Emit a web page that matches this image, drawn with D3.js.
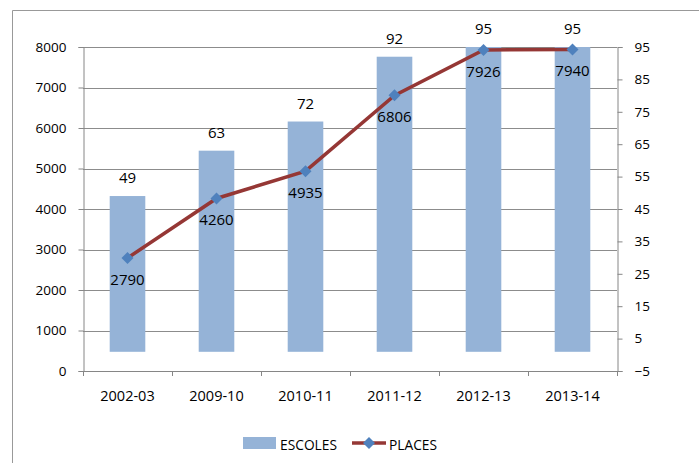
<!DOCTYPE html>
<html>
<head>
<meta charset="utf-8">
<script src="https://cdn.jsdelivr.net/npm/d3@7"></script>
<style>
  body { margin: 0; background: #fff; }
  svg text { font-family: "Open Sans", "Liberation Sans", sans-serif; fill: #000; }
</style>
</head>
<body>
<svg id="chart" width="699" height="463"></svg>
<script>
// data
const years = ["2002-03", "2009-10", "2010-11", "2011-12", "2012-13", "2013-14"];
const escoles = [49, 63, 72, 92, 95, 95];
const places = [2790, 4260, 4935, 6806, 7926, 7940];
const leftTicks = [0, 1000, 2000, 3000, 4000, 5000, 6000, 7000, 8000];
const rightTicks = [-5, 5, 15, 25, 35, 45, 55, 65, 75, 85, 95];

const svg = d3.select("#chart");
const plotL = 83, plotR = 617, plotT = 47, plotB = 371;
const axisColor = "#868686";
const font = "Open Sans, Liberation Sans, sans-serif";
const fs = 13.5;

// chart frame (only top + left edges show in the picture)
svg.append("path")
    .attr("d", "M12.5,463 V10.5 H699")
    .attr("fill", "none")
    .attr("stroke", "#999")
    .attr("stroke-width", 1);

const x = d3.scaleBand().domain(years).range([plotL, plotR]).paddingInner(0.6).paddingOuter(0.3);
const xStep = (plotR - plotL) / years.length;
const yL = d3.scaleLinear().domain([0, 8000]).range([plotB, plotT]);
const yR = d3.scaleLinear().domain([-5, 95]).range([plotB, plotT]);

// gridlines
svg.append("g")
  .selectAll("line")
  .data(leftTicks.filter(d => d > 0))
  .join("line")
    .attr("x1", plotL).attr("x2", plotR)
    .attr("y1", d => Math.round(yL(d)) + 0.5)
    .attr("y2", d => Math.round(yL(d)) + 0.5)
    .attr("stroke", "#8c8c8c")
    .attr("stroke-width", 1);

// bars (secondary axis)
svg.append("g")
  .selectAll("rect")
  .data(years)
  .join("rect")
    .attr("x", d => x(d))
    .attr("width", x.bandwidth())
    .attr("y", (d, i) => yR(escoles[i]))
    .attr("height", (d, i) => yR(0) - yR(escoles[i]) - 3)
    .attr("fill", "#95b3d7");

// left axis
const axL = svg.append("g")
    .attr("transform", `translate(${plotL + 0.5},0)`)
    .call(d3.axisLeft(yL).tickValues(leftTicks).tickSize(5).tickPadding(12).tickFormat(d3.format("d")));
axL.select(".domain").attr("stroke", axisColor);
axL.selectAll(".tick line").attr("stroke", axisColor);
axL.selectAll("text").attr("font-size", fs).attr("font-family", font);

// right axis
const axR = svg.append("g")
    .attr("transform", `translate(${plotR + 0.5},0)`)
    .call(d3.axisRight(yR).tickValues(rightTicks).tickSize(5).tickPadding(12));
axR.select(".domain").attr("stroke", axisColor);
axR.selectAll(".tick line").attr("stroke", axisColor);
axR.selectAll("text").attr("font-size", fs).attr("font-family", font);

// bottom axis: line + boundary ticks + centred labels
const axB = svg.append("g");
axB.append("line")
    .attr("x1", plotL).attr("x2", plotR + 5)
    .attr("y1", plotB + 0.5).attr("y2", plotB + 0.5)
    .attr("stroke", axisColor);
axB.selectAll("line.tk")
  .data(d3.range(years.length + 1))
  .join("line")
    .attr("class", "tk")
    .attr("x1", i => Math.round(plotL + i * xStep) + 0.5)
    .attr("x2", i => Math.round(plotL + i * xStep) + 0.5)
    .attr("y1", plotB).attr("y2", plotB + 5)
    .attr("stroke", axisColor);
axB.selectAll("text")
  .data(years)
  .join("text")
    .attr("x", d => x(d) + x.bandwidth() / 2)
    .attr("y", 401)
    .attr("text-anchor", "middle")
    .attr("font-size", 14.5)
    .text(d => d);

// PLACES line (primary axis)
const line = d3.line()
    .x((d, i) => x(years[i]) + x.bandwidth() / 2)
    .y(d => yL(d));
svg.append("path")
    .datum(places)
    .attr("d", line)
    .attr("fill", "none")
    .attr("stroke", "#953735")
    .attr("stroke-width", 3.5);

const diamond = d3.symbol().type(d3.symbolSquare).size(72);
svg.append("g")
  .selectAll("path")
  .data(places)
  .join("path")
    .attr("d", diamond)
    .attr("transform", (d, i) => `translate(${x(years[i]) + x.bandwidth() / 2},${yL(d)}) rotate(45)`)
    .attr("fill", "#4f81bd");

// data labels
svg.append("g")
  .selectAll("text")
  .data(escoles)
  .join("text")
    .attr("x", (d, i) => x(years[i]) + x.bandwidth() / 2)
    .attr("y", d => yR(d) - 13)
    .attr("text-anchor", "middle")
    .attr("font-size", 15)
    .text(d => d);

svg.append("g")
  .selectAll("text")
  .data(places)
  .join("text")
    .attr("x", (d, i) => x(years[i]) + x.bandwidth() / 2)
    .attr("y", d => yL(d) + 27)
    .attr("text-anchor", "middle")
    .attr("font-size", 15)
    .text(d => d);

// legend
const lg = svg.append("g");
lg.append("rect")
    .attr("x", 243).attr("y", 437).attr("width", 33).attr("height", 12)
    .attr("fill", "#95b3d7");
lg.append("text")
    .attr("x", 280).attr("y", 450)
    .attr("font-size", 14)
    .attr("textLength", 57).attr("lengthAdjust", "spacingAndGlyphs")
    .text("ESCOLES");
lg.append("line")
    .attr("x1", 352).attr("x2", 386).attr("y1", 443).attr("y2", 443)
    .attr("stroke", "#953735").attr("stroke-width", 3.5);
lg.append("path")
    .attr("d", diamond)
    .attr("transform", "translate(369,443) rotate(45)")
    .attr("fill", "#4f81bd");
lg.append("text")
    .attr("x", 389).attr("y", 450)
    .attr("font-size", 14)
    .attr("textLength", 48).attr("lengthAdjust", "spacingAndGlyphs")
    .text("PLACES");
</script>
</body>
</html>
